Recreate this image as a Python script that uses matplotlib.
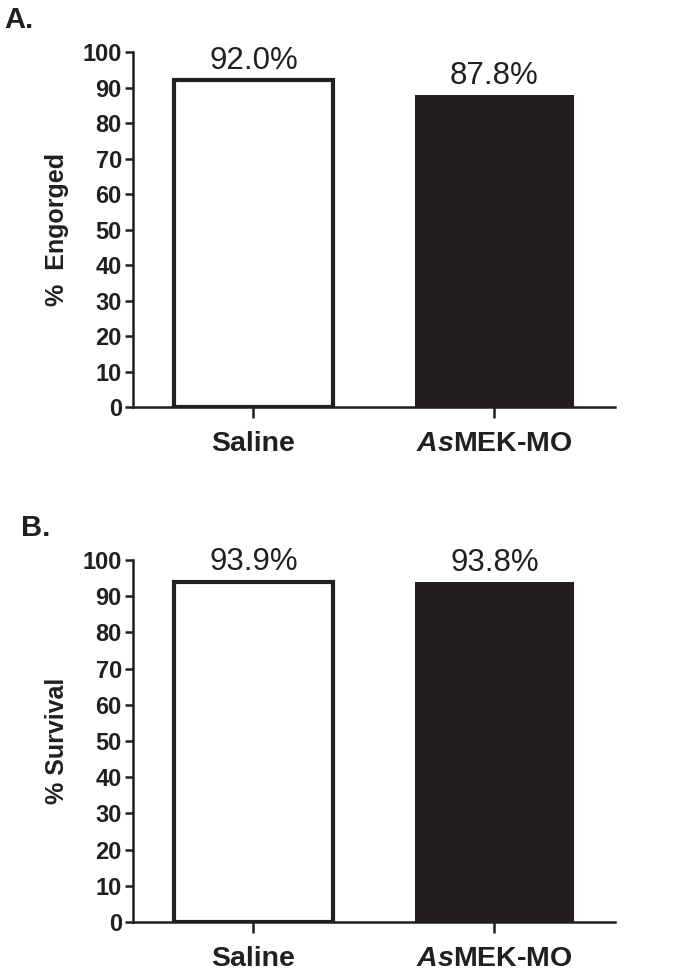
import matplotlib.pyplot as plt

plt.rcParams['font.family'] = ['Liberation Sans', 'DejaVu Sans']
plt.rcParams['mathtext.fontset'] = 'custom'
plt.rcParams['mathtext.it'] = 'Liberation Sans:style=italic:weight=bold'
plt.rcParams['mathtext.bf'] = 'Liberation Sans:weight=bold'
plt.rcParams['mathtext.rm'] = 'Liberation Sans:weight=bold'

# dati
groups = ['Saline', r'$\mathit{As}$MEK-MO']
engorged = [92.0, 87.8]
survival = [93.9, 93.8]
yticks = list(range(0, 101, 10))

fig = plt.figure(figsize=(6.75, 9.74), dpi=100)
axA = fig.add_axes([0.197, 0.5821, 0.714, 0.3645])
axB = fig.add_axes([0.197, 0.0534, 0.714, 0.3717])

dark = '#231f20'

def draw_panel(ax, values, ylabel):
    x = list(range(len(values)))
    ax.bar(x[0], values[0], width=0.66, color='white', edgecolor=dark, linewidth=3)
    ax.bar(x[1], values[1], width=0.66, color=dark, edgecolor=dark, linewidth=0)
    for xi, v in zip(x, values):
        ax.text(xi, v + 3.2, f'{v:.1f}%', ha='center', va='baseline', fontsize=22.5, color=dark)
    ax.set_xlim(-0.5, 1.5)
    ax.set_ylim(0, 100)
    ax.set_yticks(yticks)
    ax.set_yticklabels([str(t) for t in yticks], fontsize=17, fontweight='bold', color=dark)
    ax.set_xticks(x)
    ax.set_xticklabels(groups, fontsize=20.5, fontweight='bold', color=dark)
    ax.tick_params(axis='y', direction='out', length=6, width=1.8, pad=2, colors=dark)
    ax.tick_params(axis='x', direction='out', length=8, width=1.8, pad=9, colors=dark)
    for s in ['top', 'right']:
        ax.spines[s].set_visible(False)
    for s in ['left', 'bottom']:
        ax.spines[s].set_linewidth(1.8)
        ax.spines[s].set_color(dark)
    ax.set_ylabel(ylabel, fontsize=18, fontweight='bold', color=dark, labelpad=10)

draw_panel(axA, engorged, '%  Engorged')
draw_panel(axB, survival, '% Survival')

fig.text(0.006, 0.979, 'A.', fontsize=21, fontweight='bold', color=dark, va='center')
fig.text(0.031, 0.458, 'B.', fontsize=21, fontweight='bold', color=dark, va='center')

fig.savefig('out.png', dpi=100)
